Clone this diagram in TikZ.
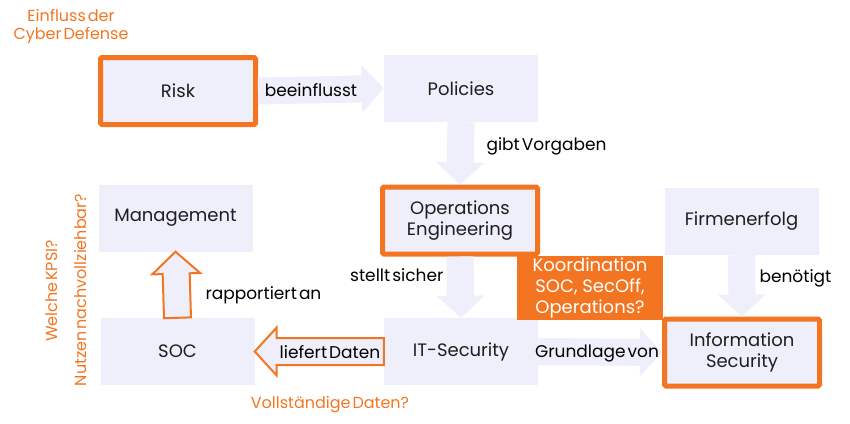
\documentclass[tikz,border=0pt]{standalone}
\usepackage{fontspec}
\setmainfont{Poppins}
\usetikzlibrary{calc}
\definecolor{cdorange}{RGB}{244,117,33}
\definecolor{boxfill}{RGB}{238,239,250}
\definecolor{boxtext}{RGB}{30,30,30}
\newcommand\tightsp{\spaceskip=2pt\relax}
\tikzset{
  box/.style={fill=boxfill, minimum width=154pt, minimum height=67pt, inner sep=0pt,
    text=boxtext, align=center, font=\fontsize{18}{21}\selectfont},
  keybox/.style={box, draw=cdorange, line width=5pt, rounded corners=1.5pt,
    minimum width=155pt},
  % block arrow from start to target
  fatarrow/.style={fill=boxfill, draw=none, to path={
    ($(\tikztostart)!13.5pt!90:(\tikztotarget)$)
    -- ($(\tikztotarget)!22pt!(\tikztostart)!13.5pt!90:(\tikztotarget)$)
    -- ($(\tikztotarget)!22pt!(\tikztostart)!24pt!90:(\tikztotarget)$)
    -- (\tikztotarget)
    -- ($(\tikztotarget)!22pt!(\tikztostart)!24pt!-90:(\tikztotarget)$)
    -- ($(\tikztotarget)!22pt!(\tikztostart)!13.5pt!-90:(\tikztotarget)$)
    -- ($(\tikztostart)!13.5pt!-90:(\tikztotarget)$) -- cycle}},
  outarrow/.style={fatarrow, draw=cdorange, line width=2pt, line join=miter},
  lbl/.style={text=black, font=\fontsize{17}{20}\selectfont\tightsp},
  note/.style={text=cdorange, font=\fontsize{16}{18}\selectfont\tightsp},
}
\begin{document}
\begin{tikzpicture}[x=1pt,y=-1pt]
  \useasboundingbox (0,0) rectangle (850,423);
  % boxes
  \node[keybox] (risk) at (178,91) {Risk};
  \node[box] (policies) at (461,88.5) {Policies};
  \node[box] (mgmt) at (175.5,218) {Management};
  \node[keybox] (ops) at (460,220.5) {Operations\\Engineering};
  \node[box] (erfolg) at (741.5,221.5) {Firmenerfolg};
  \node[box] (soc) at (177.5,351.5) {SOC};
  \node[box] (itsec) at (461,351.5) {IT-Security};
  \node[keybox] (infosec) at (742,352.5) {Information\\Security};
  \node[fill=cdorange, text=white, minimum width=146pt, minimum height=64pt,
    inner sep=0pt, align=center, font=\fontsize{18}{21}\selectfont]
    (koord) at (590,288) {Koordination\\SOC, SecOff,\\Operations?};
  % arrows
  \draw[fatarrow] (risk.east) to (policies.west);
  \draw[fatarrow] (policies.south) to (ops.north);
  \draw[fatarrow] (ops.south) to (itsec.north);
  \draw[fatarrow] (erfolg.south) to (infosec.north);
  \draw[fatarrow] (itsec.east) to (infosec.west);
  \draw[outarrow] (itsec.west) to (soc.east);
  \draw[outarrow] (soc.north) to (mgmt.south);
  % labels
  \node[lbl] (beeinf) at (311,90) {beeinflusst};
  \node[lbl, anchor=west] (vorgaben) at (483,146) {gibt Vorgaben};
  \node[lbl, anchor=east] (sicher) at (447,275) {stellt sicher};
  \node[lbl, anchor=west] (rapport) at (202,295) {rapportiert an};
  \node[lbl] (liefert) at (330,352) {liefert Daten};
  \node[lbl] (grundlage) at (597,353) {Grundlage von};
  \node[lbl, anchor=west] (benoetigt) at (756,278) {benötigt};
  % remarks
  \node[note, align=center] (einfluss) at (71,26) {Einfluss der\\Cyber Defense};
  \node[note, rotate=90] (kpsi) at (52,291) {Welche KPSI?};
  \node[note, rotate=90] (nutzen) at (80,290) {Nutzen nachvollziehbar?};
  \node[note] (vollst) at (330,405) {Vollständige Daten?};
\end{tikzpicture}
\end{document}
